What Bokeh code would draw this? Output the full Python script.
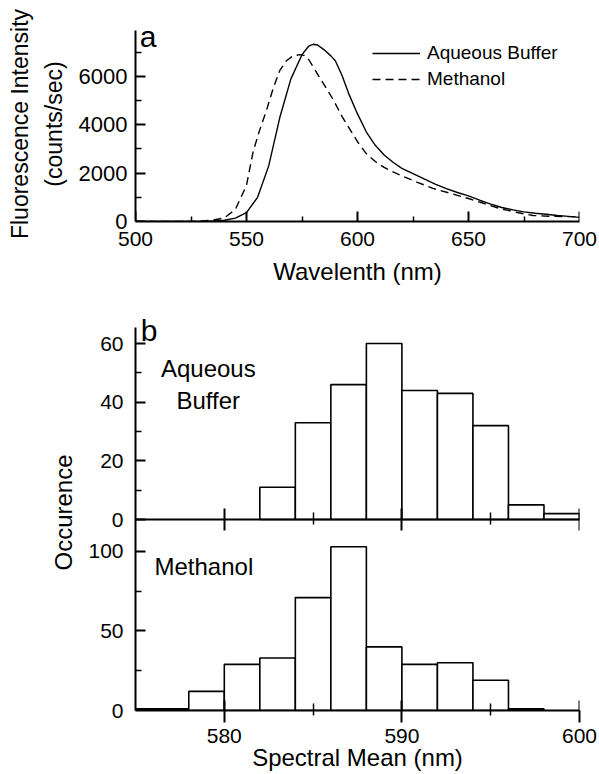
import numpy as np
from bokeh.plotting import figure
from bokeh.models import Range1d, LinearAxis, FixedTicker, Label
from bokeh.layouts import column
from bokeh.embed import file_html
from bokeh.resources import INLINE

FONT = "Liberation Sans"

# ---------------- data: panel a (emission spectra) ----------------
wl_aqueous = [500, 510, 520, 530, 535, 540, 545, 550, 555, 560, 565, 570, 575, 578, 580,
              582, 585, 588, 590, 593, 596, 600, 604, 608, 612, 616, 620, 625, 630, 635,
              640, 645, 650, 655, 660, 665, 670, 675, 680, 685, 690, 695, 700]
int_aqueous = [0, 0, 0, 10, 20, 50, 140, 370, 1000, 2300, 4300, 5900, 6900, 7250, 7330,
               7300, 7100, 6850, 6650, 6050, 5300, 4450, 3700, 3150, 2750, 2450, 2200, 1980, 1760, 1550,
               1360, 1200, 1060, 880, 720, 580, 480, 400, 340, 300, 250, 210, 170]

wl_methanol = [500, 510, 520, 525, 530, 535, 540, 545, 550, 553, 556, 559, 562, 565, 568,
               571, 574, 576, 578, 580, 582, 585, 589, 593, 597, 600, 604, 608, 612, 616,
               620, 627, 634, 642, 650, 657, 664, 672, 679, 686, 693, 700]
int_methanol = [0, 0, 0, 5, 20, 60, 150, 500, 1500, 2900, 3800, 4600, 5500, 6250, 6650,
                6850, 6900, 6870, 6700, 6400, 6100, 5650, 5050, 4350, 3750, 3300, 2800, 2480, 2240, 2050,
                1880, 1620, 1370, 1160, 950, 745, 540, 370, 250, 220, 200, 200]

# ---------------- data: panel b (histograms) ----------------
bin_width = 2
bins_aqueous = [582, 584, 586, 588, 590, 592, 594, 596, 598]
counts_aqueous = [11, 33, 46, 60, 44, 43, 32, 5, 2]
bins_methanol = [574, 576, 578, 580, 582, 584, 586, 588, 590, 592, 594, 596]
counts_methanol = [1, 1, 12, 29, 33, 71, 103, 40, 29, 30, 19, 1]

# ticks
xa_major = [500, 550, 600, 650, 700]
xa_minor = [525, 575, 625, 675]
ya_major = [0, 2000, 4000, 6000]
ya_minor = [1000, 3000, 5000, 7000]
xb_major = [580, 590, 600]
xb_minor = [585, 595]
yb_aq_major = [0, 20, 40, 60]
yb_aq_minor = [10, 30, 50]
yb_me_major = [0, 50, 100]
yb_me_minor = [25, 75]

# axis limits
xa_lim = (500, 700)
ya_lim = (0, 8065)
ya_axis_top = 7900
xb_lim = (575, 600)
me_lim = (0, 249)         # methanol histogram (lower half of panel b)
aq_lim = (-65.1, 69.9)    # aqueous histogram (upper half of panel b)
aq_axis_top = 65.5


def style_axis(ax, tin=0, tout=0, mtin=0, mtout=0, standoff=6, lstandoff=4):
    ax.axis_line_color = "black"
    ax.axis_line_width = 2
    ax.major_tick_line_color = "black"
    ax.major_tick_line_width = 2
    ax.minor_tick_line_color = "black"
    ax.minor_tick_line_width = 1.5
    ax.major_tick_in = tin
    ax.major_tick_out = tout
    ax.minor_tick_in = mtin
    ax.minor_tick_out = mtout
    ax.major_label_standoff = standoff
    ax.major_label_text_font = FONT
    ax.major_label_text_font_size = "21px"
    ax.major_label_text_color = "black"
    ax.axis_label_text_font = FONT
    ax.axis_label_text_font_size = "24px"
    ax.axis_label_text_font_style = "normal"
    ax.axis_label_text_color = "black"
    ax.axis_label_standoff = lstandoff


def tick_axis(ticks, minor, loc, tin, mtin, line=False, **kw):
    """Tick-only axis drawn at a fixed data location (inward ticks)."""
    ax = LinearAxis(ticker=FixedTicker(ticks=ticks, minor_ticks=minor), fixed_location=loc, **kw)
    style_axis(ax, tin, 0, mtin, 0, 0, 0)
    ax.major_label_text_font_size = "0px"
    ax.major_label_text_color = None
    if not line:
        ax.axis_line_color = None
    return ax


# ---------------- panel a ----------------
pA = figure(width=598, height=287, x_range=Range1d(*xa_lim), y_range=Range1d(*ya_lim),
            output_backend="svg", toolbar_location=None,
            min_border_left=135, min_border_right=19, min_border_top=26, min_border_bottom=66)
pA.outline_line_color = None
pA.grid.visible = False
pA.background_fill_color = "white"

pA.line(wl_aqueous, int_aqueous, color="black", line_width=1.4, legend_label="Aqueous Buffer")
pA.line(wl_methanol, int_methanol, color="black", line_width=1.4, line_dash="8 5",
        legend_label="Methanol")

lg = pA.legend[0]
lg.location = (237, 129)
lg.padding = 0
lg.margin = 0
lg.spacing = 0
lg.glyph_width = 48
lg.glyph_height = 26
lg.label_height = 26
lg.label_standoff = 7
lg.label_text_font = FONT
lg.label_text_font_size = "19px"
lg.label_text_color = "black"
lg.border_line_color = None
lg.background_fill_alpha = 0

xa = pA.xaxis[0]
xa.ticker = FixedTicker(ticks=xa_major, minor_ticks=[])
xa.axis_label = "Wavelenth (nm)"
style_axis(xa, standoff=10, lstandoff=9)

ya = pA.yaxis[0]
ya.ticker = FixedTicker(ticks=ya_major, minor_ticks=[])
ya.bounds = (0, ya_axis_top)
ya.axis_label = "Fluorescence Intensity\n(counts/sec)"
style_axis(ya, standoff=8, lstandoff=9)
ya.major_label_text_font_size = "22px"
ya.axis_label_text_font_size = "23px"
ya.axis_label_text_line_height = 1.3

pA.add_layout(tick_axis(xa_major, xa_minor, ya_lim[0], 10, 5), "below")
pA.add_layout(tick_axis(ya_major, ya_minor, xa_lim[0], 10, 6), "left")

pA.add_layout(Label(x=501.9, y=7640, text="a", text_font=FONT, text_font_size="30px",
                    text_color="black", text_baseline="alphabetic"))

# ---------------- panel b ----------------
pB = figure(width=598, height=486, x_range=Range1d(*xb_lim), y_range=Range1d(*me_lim),
            output_backend="svg", toolbar_location=None,
            min_border_left=135, min_border_right=19, min_border_top=27, min_border_bottom=63)
pB.outline_line_color = None
pB.grid.visible = False
pB.extra_y_ranges = {"aq": Range1d(*aq_lim)}


def aq_to_me(v):
    return me_lim[0] + (v - aq_lim[0]) / (aq_lim[1] - aq_lim[0]) * (me_lim[1] - me_lim[0])


left_me = np.array(bins_methanol, dtype=float)
left_aq = np.array(bins_aqueous, dtype=float)
pB.quad(left=left_me, right=left_me + bin_width, bottom=0, top=counts_methanol,
        fill_color="white", line_color="black", line_width=1.6)
pB.quad(left=left_aq, right=left_aq + bin_width, bottom=0, top=counts_aqueous,
        fill_color="white", line_color="black", line_width=1.6, y_range_name="aq")

xb = pB.xaxis[0]
xb.ticker = FixedTicker(ticks=xb_major, minor_ticks=xb_minor)
xb.axis_label = "Spectral Mean (nm)"
style_axis(xb, 0, 12, 0, 5, standoff=6, lstandoff=-2)

# main left axis carries the labels of both histograms
aq_pos = [aq_to_me(v) for v in yb_aq_major]
yb = pB.yaxis[0]
yb.ticker = FixedTicker(ticks=yb_me_major + aq_pos, minor_ticks=[])
yb.major_label_overrides = {p: str(v) for p, v in zip(aq_pos, yb_aq_major)}
yb.bounds = (me_lim[0], aq_to_me(aq_axis_top))
yb.axis_label = "Occurence"
style_axis(yb, standoff=12, lstandoff=8)

# inward ticks, and the crossing ticks of the shared baseline
mid = aq_to_me(0)
pB.add_layout(tick_axis(xb_major, xb_minor, me_lim[0], 10, 7), "below")
pB.add_layout(tick_axis(xb_major, xb_minor, mid, 11, 7, line=True), "below")
pB.add_layout(tick_axis(xb_major, xb_minor, mid, 11, 5), "above")
pB.add_layout(tick_axis(yb_me_major, yb_me_minor, xb_lim[0], 10, 6), "left")
pB.add_layout(tick_axis(yb_aq_major, yb_aq_minor, xb_lim[0], 10, 6, y_range_name="aq"), "left")

pB.add_layout(Label(x=575.3, y=64.6, y_range_name="aq", text="b", text_font=FONT,
                    text_font_size="30px", text_color="black", text_baseline="alphabetic"))
pB.add_layout(Label(x=579.1, y=51.6, y_range_name="aq", text="Aqueous", text_font=FONT,
                    text_font_size="24px", text_color="black", text_align="center",
                    text_baseline="alphabetic"))
pB.add_layout(Label(x=579.1, y=40.7, y_range_name="aq", text="Buffer", text_font=FONT,
                    text_font_size="24px", text_color="black", text_align="center",
                    text_baseline="alphabetic"))
pB.add_layout(Label(x=576.07, y=90.5, text="Methanol", text_font=FONT,
                    text_font_size="24px", text_color="black", text_baseline="alphabetic"))

layout = column(pA, pB)
open("out.html", "w").write(file_html(layout, INLINE))
